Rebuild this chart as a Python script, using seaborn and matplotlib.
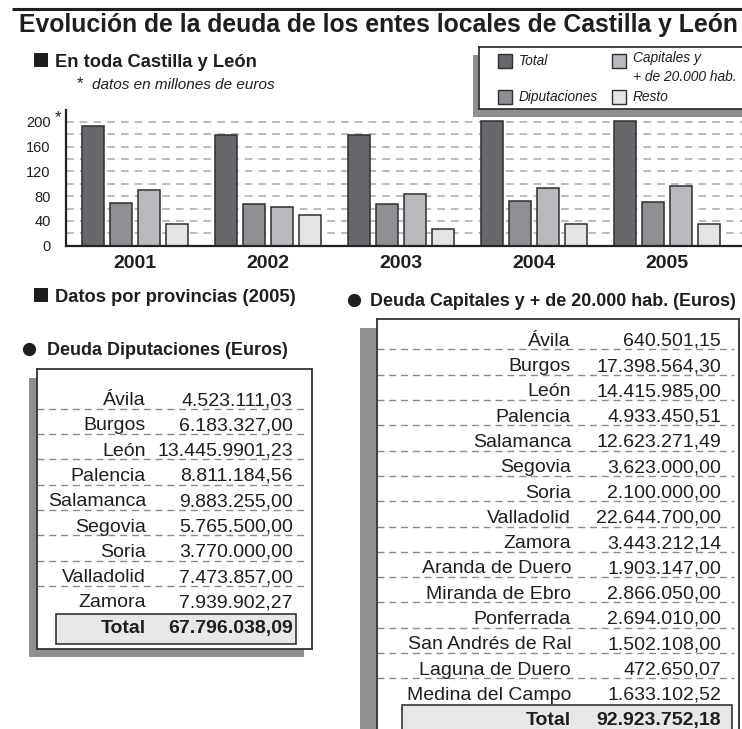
import pandas as pd
import matplotlib.pyplot as plt
import seaborn as sns
from matplotlib.patches import Rectangle

sns.set_style("white")
plt.rcParams['font.family'] = ['Liberation Sans', 'DejaVu Sans']
plt.rcParams['text.color'] = '#1e1e1e'

W, H = 742, 729
INK = '#1e1e1e'

# Chart data (millones de euros)
years = ['2001', '2002', '2003', '2004', '2005']
total = [194, 179, 179, 201.5, 201.5]
diputaciones = [69.5, 67, 67, 72, 70.5]
capitales = [90, 62, 83.5, 94, 96.5]
resto = [34.5, 49, 27.5, 35.5, 35]
series = ['Total', 'Diputaciones', 'Capitales', 'Resto']
colors = {'Total': '#67686c', 'Diputaciones': '#8e8f93',
          'Capitales': '#b9babe', 'Resto': '#e3e4e6'}

# Table data (euros, 2005)
dip_names = ['Ávila', 'Burgos', 'León', 'Palencia', 'Salamanca', 'Segovia',
             'Soria', 'Valladolid', 'Zamora']
dip_values = ['4.523.111,03', '6.183.327,00', '13.445.9901,23', '8.811.184,56',
              '9.883.255,00', '5.765.500,00', '3.770.000,00', '7.473.857,00',
              '7.939.902,27']
dip_total = '67.796.038,09'

cap_names = ['Ávila', 'Burgos', 'León', 'Palencia', 'Salamanca', 'Segovia',
             'Soria', 'Valladolid', 'Zamora', 'Aranda de Duero',
             'Miranda de Ebro', 'Ponferrada', 'San Andrés de Ral',
             'Laguna de Duero', 'Medina del Campo']
cap_values = ['640.501,15', '17.398.564,30', '14.415.985,00', '4.933.450,51',
              '12.623.271,49', '3.623.000,00', '2.100.000,00', '22.644.700,00',
              '3.443.212,14', '1.903.147,00', '2.866.050,00', '2.694.010,00',
              '1.502.108,00', '472.650,07', '1.633.102,52']
cap_total = '92.923.752,18'


def rect(x0, y0, x1, y1):
    # pixel box (top-left origin) -> figure fraction
    return [x0 / W, 1 - y1 / H, (x1 - x0) / W, (y1 - y0) / H]


def bare(a):
    a.set_xticks([])
    a.set_yticks([])
    for s in a.spines.values():
        s.set_visible(False)


fig = plt.figure(figsize=(W / 100, H / 100), dpi=100)

# background layer for headings
bg = fig.add_axes([0, 0, 1, 1], zorder=0)
bg.set_xlim(0, W)
bg.set_ylim(H, 0)
bg.axis('off')

bg.plot([12, W], [9, 9], color=INK, lw=2.2, solid_capstyle='butt')
bg.text(378, 32, 'Evolución de la deuda de los entes locales de Castilla y León',
        ha='center', va='baseline', fontsize=17.8, fontweight='bold')

bg.add_patch(Rectangle((34, 53), 14, 14, fc=INK, ec='none'))
bg.text(55, 67, 'En toda Castilla y León', va='baseline', fontsize=13.2,
        fontweight='bold')
bg.text(80, 88, '*', ha='center', va='baseline', fontsize=12)
bg.text(92, 89, 'datos en millones de euros', va='baseline', fontsize=11,
        style='italic')
bg.text(58, 122, '*', ha='center', va='baseline', fontsize=12)

bg.add_patch(Rectangle((34, 288), 14, 14, fc=INK, ec='none'))
bg.text(55, 302, 'Datos por provincias (2005)', va='baseline', fontsize=13.2,
        fontweight='bold')

bg.plot(29, 349, 'o', ms=8.5, color=INK)
bg.text(47, 355, 'Deuda Diputaciones (Euros)', va='baseline', fontsize=13,
        fontweight='bold')
bg.plot(354, 300, 'o', ms=8.5, color=INK)
bg.text(370, 306, 'Deuda Capitales y + de 20.000 hab. (Euros)', va='baseline',
        fontsize=12.9, fontweight='bold')

# grouped bar chart
df = pd.DataFrame({
    'Año': years * 4,
    'Serie': [s for s in series for _ in years],
    'Valor': total + diputaciones + capitales + resto,
})

ax = fig.add_axes(rect(66, 110, W, 245.7), zorder=1)
ax.patch.set_alpha(0)
sns.barplot(data=df, x='Año', y='Valor', hue='Serie', hue_order=series,
            palette=colors, width=0.842, gap=0.24, saturation=1,
            edgecolor='#2e2e2e', linewidth=1.1, legend=False, ax=ax)
ax.set_xlim(-0.519, 4.564)
ax.set_ylim(0, 219.4)
ax.set_yticks(range(0, 201, 40))
ax.set_yticks(range(20, 200, 40), minor=True)
ax.grid(axis='y', which='both', ls=(0, (5, 4)), color='#a8a8a8', lw=1.1)
ax.set_axisbelow(True)
ax.tick_params(axis='y', which='major', length=9, width=1.4, color='#222',
               labelsize=10.5, pad=2, labelcolor=INK)
ax.tick_params(axis='y', which='minor', length=8, width=1.4, color='#222')
ax.tick_params(axis='x', length=0, pad=7, labelsize=14, labelcolor=INK)
for t in ax.get_xticklabels():
    t.set_fontweight('bold')
ax.set_xlabel('')
ax.set_ylabel('')
for s in ['top', 'right']:
    ax.spines[s].set_visible(False)
for s in ['left', 'bottom']:
    ax.spines[s].set_linewidth(1.6)
    ax.spines[s].set_color('#222')

# legend box with shadow
lsh = fig.add_axes(rect(473, 55, W, 117), zorder=2)
lsh.set_facecolor('#8f8f8f')
bare(lsh)
lg = fig.add_axes(rect(479, 47, W + 3, 109), zorder=3)
lg.set_xlim(479, W + 3)
lg.set_ylim(109, 47)
lg.set_facecolor('white')
lg.set_xticks([])
lg.set_yticks([])
for s in lg.spines.values():
    s.set_color('#333')
    s.set_linewidth(1.3)
legend_items = [('Total', 498, 61, ['Total']),
                ('Diputaciones', 498, 97, ['Diputaciones']),
                ('Capitales', 612, 61, ['Capitales y', '+ de 20.000 hab.']),
                ('Resto', 612, 97, ['Resto'])]
for key, lx, ly, lines in legend_items:
    lg.add_patch(Rectangle((lx, ly - 7), 14, 14, fc=colors[key], ec='#2e2e2e', lw=1))
    for k, line in enumerate(lines):
        lg.text(lx + 21, ly + 4 + k * 19 - (3 if len(lines) > 1 else 0), line,
                va='baseline', fontsize=9.9, style='italic')


def draw_table(box, shadow, names, values, total_value, base, step,
               label_x, value_x, dash_x1, tbox_x, tbox_top, open_bottom=False):
    x0, y0, x1, y1 = box
    sh = fig.add_axes(rect(*shadow), zorder=1)
    sh.set_facecolor('#8f8f8f')
    bare(sh)
    t = fig.add_axes(rect(*box), zorder=2)
    t.set_facecolor('white')
    t.set_xlim(x0, x1)
    t.set_ylim((y1 - base) / step, (y0 - base) / step)
    t.set_xticks([])
    t.set_yticks([])
    for s in t.spines.values():
        s.set_color('#333')
        s.set_linewidth(1.3)
    if open_bottom:
        t.spines['bottom'].set_visible(False)
    n = len(names)
    for i, (name, val) in enumerate(zip(names, values)):
        t.text(label_x, i, name, ha='right', va='baseline', fontsize=14)
        t.text(value_x, i, val, ha='right', va='baseline', fontsize=14)
    t.hlines([i + 0.15 for i in range(n - 1)], x0, dash_x1, colors='#8a8a8a',
             lw=1, linestyles=(0, (5, 3.5)))
    t.add_patch(Rectangle((tbox_x[0], tbox_top), tbox_x[1] - tbox_x[0], 1.2,
                          fc='#e6e7e9', ec='#333', lw=1.2))
    t.text(label_x, n, 'Total', ha='right', va='baseline', fontsize=14,
           fontweight='bold')
    t.text(value_x, n, total_value, ha='right', va='baseline', fontsize=14,
           fontweight='bold')


draw_table((37, 369, 312, 649), (29, 378, 304, 657), dip_names, dip_values,
           dip_total, base=405, step=25.3, label_x=146, value_x=293,
           dash_x1=307, tbox_x=(56, 296), tbox_top=8.26)
draw_table((377, 319, 739, 729), (360, 328, 740, 740), cap_names, cap_values,
           cap_total, base=345.7, step=25.3, label_x=571, value_x=721,
           dash_x1=734, tbox_x=(402, 732), tbox_top=14.2, open_bottom=True)

fig.savefig('out.png', dpi=100, facecolor='white')
